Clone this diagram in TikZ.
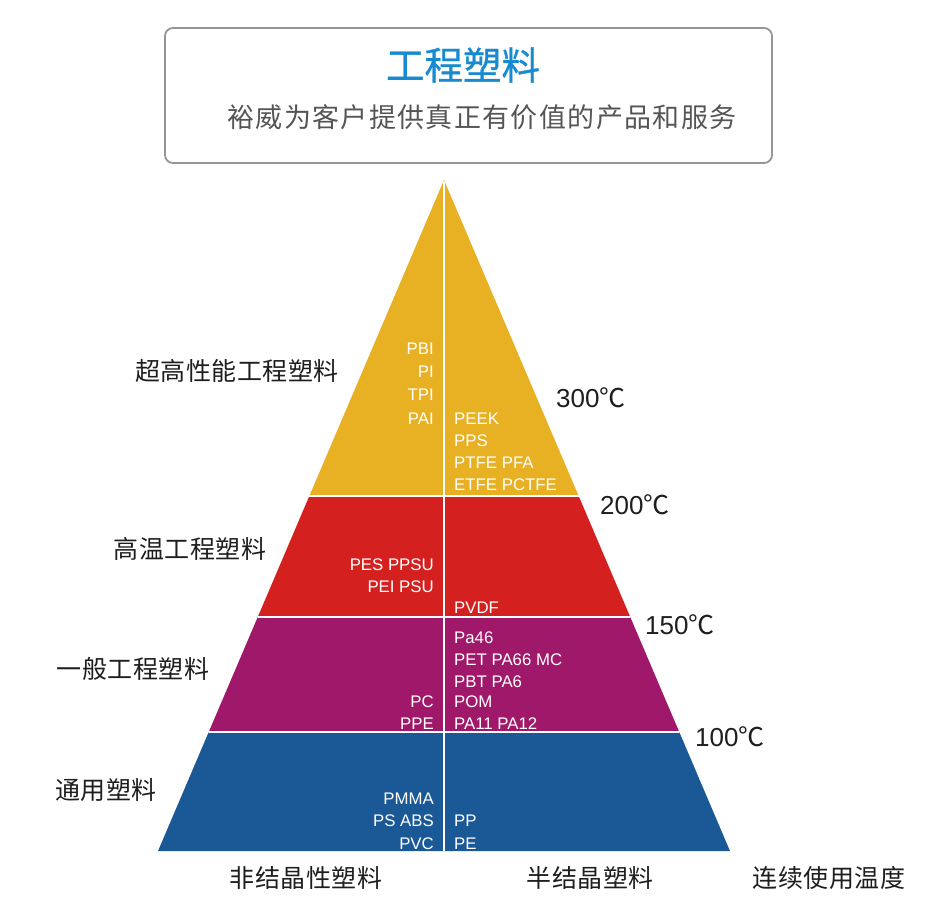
\documentclass[tikz,border=0pt]{standalone}
\usepackage{fontspec}
\setmainfont{Liberation Sans}
\newfontfamily\cjk{Noto Sans CJK SC}
\newfontfamily\cjkheavy[FakeBold=0.8]{Noto Sans CJK SC}
\newfontfamily\cjksp[LetterSpace=2]{Noto Sans CJK SC}
\newfontfamily\cjkwide[LetterSpace=5]{Noto Sans CJK SC}
\definecolor{titleblue}{RGB}{24,138,207}
\definecolor{framegray}{RGB}{150,150,150}
\definecolor{textgray}{RGB}{85,85,85}
\definecolor{labelgray}{RGB}{30,30,30}
\definecolor{yellowband}{RGB}{232,176,35}
\definecolor{redband}{RGB}{212,32,30}
\definecolor{purpleband}{RGB}{160,24,106}
\definecolor{blueband}{RGB}{26,88,150}

\begin{document}
\begin{tikzpicture}[x=1pt,y=-1pt, inner sep=0pt,
                lmat/.style = {text=white, anchor=base east, font=\fontsize{16.8}{20}\selectfont},
                rmat/.style = {text=white, anchor=base west, font=\fontsize{16.8}{20}\selectfont},
                tier/.style = {text=labelgray, font=\cjksp\fontsize{25}{30}\selectfont},
                temp/.style = {text=labelgray, anchor=west, font=\fontsize{26}{30}\selectfont},
                divider/.style = {white, line width=2pt}]
                \useasboundingbox (0,0) rectangle (930,921);
                % header box
                \draw[rounded corners=8pt, draw=framegray, line width=1.8pt] (165,28) rectangle (772,163);
                \node[text=titleblue, font=\cjkheavy\fontsize{38.5}{40}\selectfont] (title) at (463,65) {工程塑料};
                \node[text=textgray, font=\cjkwide\fontsize{27}{30}\selectfont] (slogan) at (482,117) {裕威为客户提供真正有价值的产品和服务};
                % pyramid
                \coordinate (apex) at (444,180);
                \coordinate (bl) at (158,851);
                \coordinate (br) at (730,851);
                \begin{scope}
                    \clip (apex) -- (br) -- (bl) -- cycle;
                    \fill[yellowband] (150,170) rectangle (740,496);
                    \fill[redband] (150,496) rectangle (740,617);
                    \fill[purpleband] (150,617) rectangle (740,732);
                    \fill[blueband] (150,732) rectangle (740,860);
                    \draw[divider] (150,496) -- (740,496);
                    \draw[divider] (150,617) -- (740,617);
                    \draw[divider] (150,732) -- (740,732);
                    \draw[divider] (444,170) -- (444,860);
                \end{scope}
                % materials
                \node[lmat] (pbi) at (434,354) {PBI};
                \node[lmat] (pi) at (434,377) {PI};
                \node[lmat] (tpi) at (434,400) {TPI};
                \node[lmat] (pai) at (434,424) {PAI};
                \node[rmat] (peek) at (454,424) {PEEK};
                \node[rmat] (pps) at (454,446) {PPS};
                \node[rmat] (ptfe) at (454,468) {PTFE PFA};
                \node[rmat] (etfe) at (454,490) {ETFE PCTFE};
                \node[lmat] (pes) at (434,570) {PES PPSU};
                \node[lmat] (pei) at (434,592) {PEI PSU};
                \node[rmat] (pvdf) at (454,613) {PVDF};
                \node[rmat] (pa46) at (454,643) {Pa46};
                \node[rmat] (pet) at (454,665) {PET PA66 MC};
                \node[rmat] (pbt) at (454,687) {PBT PA6};
                \node[lmat] (pc) at (434,707) {PC};
                \node[rmat] (pom) at (454,707) {POM};
                \node[lmat] (ppe) at (434,729) {PPE};
                \node[rmat] (pa11) at (454,729) {PA11 PA12};
                \node[lmat] (pmma) at (434,804) {PMMA};
                \node[lmat] (ps) at (434,826) {PS ABS};
                \node[rmat] (pp) at (454,826) {PP};
                \node[lmat] (pvc) at (434,849) {PVC};
                \node[rmat] (pe) at (454,849) {PE};
                % tiers
                \node[tier] (ultra) at (237,371) {超高性能工程塑料};
                \node[tier] (high) at (190,549) {高温工程塑料};
                \node[tier] (general) at (133,669) {一般工程塑料};
                \node[tier] (common) at (106,790) {通用塑料};
                \node[tier] (amorph) at (306,878) {非结晶性塑料};
                \node[tier] (semi) at (590,878) {半结晶塑料};
                \node[tier] (usetemp) at (829,878) {连续使用温度};
                % temperatures
                \node[temp] (t300) at (556,398) {300{\cjk ℃}};
                \node[temp] (t200) at (600,505) {200{\cjk ℃}};
                \node[temp] (t150) at (645,625) {150{\cjk ℃}};
                \node[temp] (t100) at (695,737) {100{\cjk ℃}};
            \end{tikzpicture}
\end{document}
